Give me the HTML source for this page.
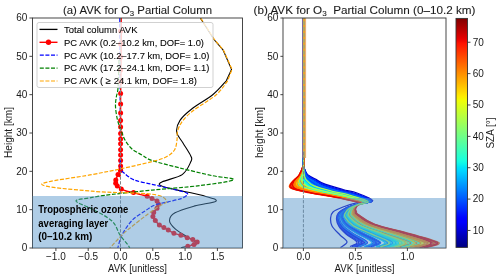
<!DOCTYPE html>
<html><head><meta charset="utf-8"><style>
html,body{margin:0;padding:0;width:500px;height:278px;overflow:hidden;background:#fff;}
body{position:relative;font-family:"Liberation Sans",sans-serif;}
</style></head><body>
<div style="position:absolute;left:0;top:0;width:500px;height:278px;will-change:transform">
<svg width="500" height="278" viewBox="0 0 500 278" style="position:absolute;left:0;top:0;font-family:'Liberation Sans', sans-serif">
<defs>
<clipPath id="cl"><rect x="32.5" y="18" width="210" height="230"/></clipPath>
<clipPath id="cr"><rect x="283" y="18" width="163" height="230"/></clipPath>
<linearGradient id="jet" x1="0" y1="0" x2="0" y2="1"><stop offset="0" stop-color="#800000"/><stop offset="0.01" stop-color="#8b0000"/><stop offset="0.02" stop-color="#970000"/><stop offset="0.03" stop-color="#a20000"/><stop offset="0.04" stop-color="#ae0000"/><stop offset="0.05" stop-color="#b90000"/><stop offset="0.06" stop-color="#c50000"/><stop offset="0.07" stop-color="#d10000"/><stop offset="0.08" stop-color="#dc0000"/><stop offset="0.09" stop-color="#e80000"/><stop offset="0.1" stop-color="#f30900"/><stop offset="0.11" stop-color="#ff1300"/><stop offset="0.12" stop-color="#ff1c00"/><stop offset="0.13" stop-color="#ff2600"/><stop offset="0.14" stop-color="#ff2f00"/><stop offset="0.15" stop-color="#ff3900"/><stop offset="0.16" stop-color="#ff4200"/><stop offset="0.17" stop-color="#ff4c00"/><stop offset="0.18" stop-color="#ff5500"/><stop offset="0.19" stop-color="#ff5e00"/><stop offset="0.2" stop-color="#ff6800"/><stop offset="0.21" stop-color="#ff7100"/><stop offset="0.22" stop-color="#ff7b00"/><stop offset="0.23" stop-color="#ff8400"/><stop offset="0.24" stop-color="#ff8e00"/><stop offset="0.25" stop-color="#ff9700"/><stop offset="0.26" stop-color="#ffa100"/><stop offset="0.27" stop-color="#ffaa00"/><stop offset="0.28" stop-color="#ffb300"/><stop offset="0.29" stop-color="#ffbd00"/><stop offset="0.3" stop-color="#ffc600"/><stop offset="0.31" stop-color="#ffd000"/><stop offset="0.32" stop-color="#ffd900"/><stop offset="0.33" stop-color="#ffe300"/><stop offset="0.34" stop-color="#ffec00"/><stop offset="0.35" stop-color="#f7f600"/><stop offset="0.36" stop-color="#efff08"/><stop offset="0.37" stop-color="#e6ff10"/><stop offset="0.38" stop-color="#deff19"/><stop offset="0.39" stop-color="#d6ff21"/><stop offset="0.4" stop-color="#ceff29"/><stop offset="0.41" stop-color="#c5ff31"/><stop offset="0.42" stop-color="#bdff3a"/><stop offset="0.43" stop-color="#b5ff42"/><stop offset="0.44" stop-color="#adff4a"/><stop offset="0.45" stop-color="#a5ff52"/><stop offset="0.46" stop-color="#9cff5a"/><stop offset="0.47" stop-color="#94ff63"/><stop offset="0.48" stop-color="#8cff6b"/><stop offset="0.49" stop-color="#84ff73"/><stop offset="0.5" stop-color="#7bff7b"/><stop offset="0.51" stop-color="#73ff84"/><stop offset="0.52" stop-color="#6bff8c"/><stop offset="0.53" stop-color="#63ff94"/><stop offset="0.54" stop-color="#5aff9c"/><stop offset="0.55" stop-color="#52ffa5"/><stop offset="0.56" stop-color="#4affad"/><stop offset="0.57" stop-color="#42ffb5"/><stop offset="0.58" stop-color="#3affbd"/><stop offset="0.59" stop-color="#31ffc5"/><stop offset="0.6" stop-color="#29ffce"/><stop offset="0.61" stop-color="#21ffd6"/><stop offset="0.62" stop-color="#19ffde"/><stop offset="0.63" stop-color="#10fae6"/><stop offset="0.64" stop-color="#08f0ef"/><stop offset="0.65" stop-color="#00e5f7"/><stop offset="0.66" stop-color="#00dbff"/><stop offset="0.67" stop-color="#00d1ff"/><stop offset="0.68" stop-color="#00c7ff"/><stop offset="0.69" stop-color="#00bdff"/><stop offset="0.7" stop-color="#00b3ff"/><stop offset="0.71" stop-color="#00a8ff"/><stop offset="0.72" stop-color="#009eff"/><stop offset="0.73" stop-color="#0094ff"/><stop offset="0.74" stop-color="#008aff"/><stop offset="0.75" stop-color="#0080ff"/><stop offset="0.76" stop-color="#0075ff"/><stop offset="0.77" stop-color="#006bff"/><stop offset="0.78" stop-color="#0061ff"/><stop offset="0.79" stop-color="#0057ff"/><stop offset="0.8" stop-color="#004dff"/><stop offset="0.81" stop-color="#0042ff"/><stop offset="0.82" stop-color="#0038ff"/><stop offset="0.83" stop-color="#002eff"/><stop offset="0.84" stop-color="#0024ff"/><stop offset="0.85" stop-color="#0019ff"/><stop offset="0.86" stop-color="#000fff"/><stop offset="0.87" stop-color="#0005ff"/><stop offset="0.88" stop-color="#0000ff"/><stop offset="0.89" stop-color="#0000ff"/><stop offset="0.9" stop-color="#0000f3"/><stop offset="0.91" stop-color="#0000e8"/><stop offset="0.92" stop-color="#0000dc"/><stop offset="0.93" stop-color="#0000d1"/><stop offset="0.94" stop-color="#0000c5"/><stop offset="0.95" stop-color="#0000b9"/><stop offset="0.96" stop-color="#0000ae"/><stop offset="0.97" stop-color="#0000a2"/><stop offset="0.98" stop-color="#000097"/><stop offset="0.99" stop-color="#00008b"/><stop offset="1" stop-color="#000080"/></linearGradient>
</defs>
<rect width="500" height="278" fill="#fff"/>
<g clip-path="url(#cl)" fill="none" stroke-linejoin="round">
<path d="M200.3,18 L214,39.5 L223.2,50.2 L231.5,69.4 L226.3,80.8 L226.3,80.8 C224.08,83.08 218.77,89.8 213,94.5 C207.23,99.2 197.2,104.68 191.7,109 C186.2,113.32 182.5,116.57 180,120.4 C177.5,124.23 176.2,128.23 176.7,132 C177.2,135.77 180.63,138.97 183,143 C185.37,147.03 189.58,153.1 190.9,156.2 C192.22,159.3 192.35,158.53 190.9,161.6 C189.45,164.67 187.42,170.72 182.2,174.6 C176.98,178.48 156.52,181.5 159.6,184.9 C162.68,188.3 191.27,192.33 200.7,195 C210.13,197.67 217.18,199.08 216.2,200.9 C215.22,202.72 201.67,203.92 194.8,205.9 C187.93,207.88 179.22,210.33 175,212.8 C170.78,215.27 169.47,218.02 169.5,220.7 C169.53,223.38 172.37,226.28 175.2,228.9 C178.03,231.52 182.87,234.05 186.5,236.4 C190.13,238.75 196.35,241.48 197,243 C197.65,244.52 193.07,244.7 190.4,245.5 C187.73,246.3 182.57,247.42 181,247.8" stroke="#000" stroke-width="1.1"/>
<line x1="119.8" y1="18" x2="120.5" y2="168" stroke="#00f" stroke-width="1.2" stroke-dasharray="4,1.6"/>
<path d="M121.2,18 C121.17,25 121.1,46.33 121,60 C120.9,73.67 120.68,81.63 120.6,100 C120.52,118.37 120.93,157.77 120.5,170.2 C120.07,182.63 118.78,172.97 118,174.6 C117.22,176.23 116.18,178.57 115.8,180 C115.42,181.43 115.45,182.18 115.7,183.2 C115.95,184.22 116.37,185.15 117.3,186.1 C118.23,187.05 119.82,188.08 121.3,188.9 C122.78,189.72 124.17,190.38 126.2,191 C128.23,191.62 131.08,192 133.5,192.6 C135.92,193.2 138.42,194 140.7,194.6 C142.98,195.2 145.32,195.53 147.2,196.2 C149.08,196.87 150.37,197.8 152,198.6 C153.63,199.4 155.92,200.05 157,201 C158.08,201.95 158.5,203.08 158.5,204.3 C158.5,205.52 157.8,206.95 157,208.3 C156.2,209.65 154.38,211.05 153.7,212.4 C153.02,213.75 152.63,215.05 152.9,216.4 C153.17,217.75 154.22,219.05 155.3,220.5 C156.38,221.95 157.97,223.92 159.4,225.1 C160.83,226.28 162.42,226.77 163.9,227.6 C165.38,228.43 166.63,229.15 168.3,230.1 C169.97,231.05 171.8,232.45 173.9,233.3 C176,234.15 178.68,234.47 180.9,235.2 C183.12,235.93 185.22,236.97 187.2,237.7 C189.18,238.43 191.13,238.87 192.8,239.6 C194.47,240.33 197,241.27 197.2,242.1 C197.4,242.93 195.57,243.92 194,244.6 C192.43,245.28 188.83,245.93 187.8,246.2" stroke="#f00" stroke-width="1.4"/>
<g fill="#f00" stroke="none"><circle cx="120.6" cy="31" r="2.5"/><circle cx="120.6" cy="44" r="2.5"/><circle cx="120.6" cy="57" r="2.5"/><circle cx="120.6" cy="70" r="2.5"/><circle cx="120.6" cy="82" r="2.5"/><circle cx="120.6" cy="93.6" r="2.5"/><circle cx="120.6" cy="104" r="2.5"/><circle cx="120.6" cy="113.1" r="2.5"/><circle cx="120.6" cy="120.6" r="2.5"/><circle cx="120.6" cy="127.1" r="2.5"/><circle cx="120.6" cy="133.6" r="2.5"/><circle cx="120.6" cy="139" r="2.5"/><circle cx="120.6" cy="143.7" r="2.5"/><circle cx="120.6" cy="149.7" r="2.5"/><circle cx="120.6" cy="155" r="2.5"/><circle cx="120.6" cy="160.5" r="2.5"/><circle cx="120.6" cy="166" r="2.5"/><circle cx="120.6" cy="170.2" r="2.5"/><circle cx="120.5" cy="170.2" r="2.5"/><circle cx="118" cy="174.6" r="2.5"/><circle cx="115.8" cy="180" r="2.5"/><circle cx="115.7" cy="183.2" r="2.5"/><circle cx="117.3" cy="186.1" r="2.5"/><circle cx="121.3" cy="188.9" r="2.5"/><circle cx="133.5" cy="192.6" r="2.5"/><circle cx="147.2" cy="196.2" r="2.5"/><circle cx="152" cy="198.6" r="2.5"/><circle cx="157" cy="201" r="2.5"/><circle cx="158.5" cy="204.3" r="2.5"/><circle cx="157" cy="208.3" r="2.5"/><circle cx="153.7" cy="212.4" r="2.5"/><circle cx="152.9" cy="216.4" r="2.5"/><circle cx="155.3" cy="220.5" r="2.5"/><circle cx="159.4" cy="225.1" r="2.5"/><circle cx="163.9" cy="227.6" r="2.5"/><circle cx="168.3" cy="230.1" r="2.5"/><circle cx="173.9" cy="233.3" r="2.5"/><circle cx="180.9" cy="235.2" r="2.5"/><circle cx="187.2" cy="237.7" r="2.5"/><circle cx="192.8" cy="239.6" r="2.5"/><circle cx="197.2" cy="242.1" r="2.5"/><circle cx="194" cy="244.6" r="2.5"/><circle cx="187.8" cy="246.2" r="2.5"/></g>
<path d="M120.5,160 C120.5,161.33 119.92,165.83 120.5,168 C121.08,170.17 121.7,171 124,173 C126.3,175 129.63,178.12 134.3,180 C138.97,181.88 146.05,182.88 152,184.3 C157.95,185.72 164.67,187.22 170,188.5 C175.33,189.78 181.08,191 184,192 C186.92,193 188,193.4 187.5,194.5 C187,195.6 184.2,197.38 181,198.6 C177.8,199.82 172.63,200.73 168.3,201.8 C163.97,202.87 158.72,203.58 155,205 C151.28,206.42 149.83,207.72 146,210.3 C142.17,212.88 136,216.38 132,220.5 C128,224.62 124.42,230.25 122,235 C119.58,239.75 118.25,246.67 117.5,249" stroke="#00f" stroke-width="1.2" stroke-dasharray="4,1.6"/>
<path d="M119,60 C118.83,64.67 118.45,81.83 118,88 C117.55,94.17 116.72,93.9 116.3,97 C115.88,100.1 115.3,102.77 115.5,106.6 C115.7,110.43 116.58,116.1 117.5,120 C118.42,123.9 119.75,126.67 121,130 C122.25,133.33 123.17,136.83 125,140 C126.83,143.17 129.17,146.5 132,149 C134.83,151.5 138.67,153.08 142,155 C145.33,156.92 145.67,158.33 152,160.5 C158.33,162.67 170,165.48 180,168 C190,170.52 203.08,173.63 212,175.6 C220.92,177.57 235.5,178.13 233.5,179.8 C231.5,181.47 213.58,183.88 200,185.6 C186.42,187.32 166.77,188.62 152,190.1 C137.23,191.58 121.73,193.22 111.4,194.5 C101.07,195.78 95.9,196.72 90,197.8 C84.1,198.88 75.67,199.13 76,201 C76.33,202.87 86,205.67 92,209 C98,212.33 107.33,216.67 112,221 C116.67,225.33 117.33,231 120,235 C122.67,239 126.33,242.67 128,245 C129.67,247.33 129.67,248.33 130,249" stroke="#008000" stroke-width="1.2" stroke-dasharray="4,1.6"/>
<path d="M200.6,18 L214.3,39.5 L223.5,50.2 L232,69.4 L227.5,81 L227.5,81 C225.58,83.33 221.58,90.17 216,95 C210.42,99.83 199.58,105.67 194,110 C188.42,114.33 185.25,117.42 182.5,121 C179.75,124.58 178.42,128.33 177.5,131.5 C176.58,134.67 177.5,136.92 177,140 C176.5,143.08 176.33,147.17 174.5,150 C172.67,152.83 169.75,155.07 166,157 C162.25,158.93 159.67,159.6 152,161.6 C144.33,163.6 130,166.83 120,169 C110,171.17 105.05,172.05 92,174.6 C78.95,177.15 41.7,181.53 41.7,184.3 C41.7,187.07 73.62,189.55 92,191.2 C110.38,192.85 139.57,192.57 152,194.2 C164.43,195.83 165.52,198.95 166.6,201 C167.68,203.05 161.6,204.33 158.5,206.5 C155.4,208.67 151.92,211.08 148,214 C144.08,216.92 139.25,220.58 135,224 C130.75,227.42 126.75,230.42 122.5,234.5 C118.25,238.58 111.67,246.17 109.5,248.5" stroke="#ffa500" stroke-width="1.2" stroke-dasharray="4,1.6"/>
<line x1="120.5" y1="18" x2="120.5" y2="248" stroke="#808080" stroke-width="1.0" stroke-dasharray="3.3,1.5"/>
</g>
<rect x="37" y="22.5" width="176" height="65" rx="2" ry="2" fill="#fff" fill-opacity="0.8" stroke="#cccccc" stroke-width="0.9"/>
<line x1="39.5" y1="29.4" x2="57.5" y2="29.4" stroke="#000" stroke-width="1.3"/>
<line x1="39.5" y1="42.3" x2="57.5" y2="42.3" stroke="#f00" stroke-width="1.4"/>
<circle cx="48.5" cy="42.3" r="2.7" fill="#f00"/>
<line x1="39.8" y1="55.2" x2="57.5" y2="55.2" stroke="#00f" stroke-width="1.2" stroke-dasharray="4,1.6"/>
<line x1="39.8" y1="68.1" x2="57.5" y2="68.1" stroke="#008000" stroke-width="1.2" stroke-dasharray="4,1.6"/>
<line x1="39.8" y1="81.0" x2="57.5" y2="81.0" stroke="#ffa500" stroke-width="1.2" stroke-dasharray="4,1.6"/>
<g font-size="9" fill="#000" stroke="#000" stroke-width="0.08">
<text x="64" y="32.7" textLength="73.5" lengthAdjust="spacingAndGlyphs">Total column AVK</text>
<text x="64" y="45.6" textLength="140" lengthAdjust="spacingAndGlyphs">PC AVK (0.2–10.2 km, DOF= 1.0)</text>
<text x="64" y="58.5" textLength="145.5" lengthAdjust="spacingAndGlyphs">PC AVK (10.2–17.7 km, DOF= 1.0)</text>
<text x="64" y="71.4" textLength="145.5" lengthAdjust="spacingAndGlyphs">PC AVK (17.2–24.1 km, DOF= 1.1)</text>
<text x="64" y="84.3" textLength="133" lengthAdjust="spacingAndGlyphs">PC AVK ( ≥ 24.1 km, DOF= 1.8)</text>
</g>
<g stroke="#333" stroke-width="0.9" fill="none">
<rect x="32.5" y="18" width="210" height="230"/>
<line x1="29.4" y1="248" x2="32.5" y2="248"/>
<line x1="29.4" y1="209.67" x2="32.5" y2="209.67"/>
<line x1="29.4" y1="171.33" x2="32.5" y2="171.33"/>
<line x1="29.4" y1="133" x2="32.5" y2="133"/>
<line x1="29.4" y1="94.67" x2="32.5" y2="94.67"/>
<line x1="29.4" y1="56.34" x2="32.5" y2="56.34"/>
<line x1="29.4" y1="18" x2="32.5" y2="18"/>
<line x1="55.9" y1="248" x2="55.9" y2="251"/>
<line x1="88.2" y1="248" x2="88.2" y2="251"/>
<line x1="120.5" y1="248" x2="120.5" y2="251"/>
<line x1="152.8" y1="248" x2="152.8" y2="251"/>
<line x1="185.1" y1="248" x2="185.1" y2="251"/>
<line x1="217.4" y1="248" x2="217.4" y2="251"/>
</g>
<rect x="32.5" y="196" width="210" height="52" fill="#5595ca" fill-opacity="0.47"/>
<g font-weight="bold" font-size="10.6" fill="#000">
<text x="38.3" y="213.4" textLength="90" lengthAdjust="spacingAndGlyphs">Tropospheric ozone</text>
<text x="38.3" y="226.6" textLength="70" lengthAdjust="spacingAndGlyphs">averaging layer</text>
<text x="38.3" y="240" textLength="54" lengthAdjust="spacingAndGlyphs">(0–10.2 km)</text>
</g>
<g font-size="10" fill="#1a1a1a">
<text x="27.3" y="251.3" text-anchor="end">0</text>
<text x="27.3" y="212.97" text-anchor="end">10</text>
<text x="27.3" y="174.63" text-anchor="end">20</text>
<text x="27.3" y="136.3" text-anchor="end">30</text>
<text x="27.3" y="97.97" text-anchor="end">40</text>
<text x="27.3" y="59.64" text-anchor="end">50</text>
<text x="27.3" y="21.3" text-anchor="end">60</text>
<text x="55.9" y="260.3" text-anchor="middle">−1.0</text>
<text x="88.2" y="260.3" text-anchor="middle">−0.5</text>
<text x="120.5" y="260.3" text-anchor="middle">0.0</text>
<text x="152.8" y="260.3" text-anchor="middle">0.5</text>
<text x="185.1" y="260.3" text-anchor="middle">1.0</text>
<text x="217.4" y="260.3" text-anchor="middle">1.5</text>
<text x="137.5" y="272" text-anchor="middle" textLength="59" lengthAdjust="spacingAndGlyphs">AVK [unitless]</text>
<text transform="translate(12,132.5) rotate(-90)" text-anchor="middle" textLength="51" lengthAdjust="spacingAndGlyphs">Height [km]</text>
</g>
<text x="63" y="14.2" font-size="10.9" fill="#1a1a1a" stroke="#1a1a1a" stroke-width="0.08" textLength="149" lengthAdjust="spacingAndGlyphs">(a) AVK for O<tspan font-size="7.5" dy="2">3</tspan><tspan dy="-2"> Partial Column</tspan></text>
<g clip-path="url(#cr)" fill="none" stroke-linejoin="round">
<path d="M302.91,18 C302.96,41.33 303.1,133.17 303.24,158 C303.38,182.83 303.28,164.31 303.76,166.95 C304.25,169.59 305.23,172.16 306.14,173.86 C307.05,175.56 308.03,176.17 309.23,177.14 C310.43,178.12 311.14,178.41 313.34,179.72 C315.54,181.02 318.06,183.21 322.42,184.98 C326.79,186.75 334.12,188.81 339.51,190.33 C344.9,191.86 349.44,192.34 354.75,194.11 C360.06,195.88 370.67,199.34 371.36,200.98 C372.05,202.61 362.98,202.72 358.87,203.91 C354.77,205.09 349.87,206.58 346.75,208.08 C343.63,209.57 341.54,211.13 340.17,212.88 C338.8,214.63 338.17,216.34 338.53,218.57 C338.89,220.81 340.11,223.73 342.35,226.3 C344.59,228.86 348.24,231.32 351.95,233.97 C355.66,236.63 363.74,240.12 364.61,242.23 C365.47,244.33 358.38,245.87 357.13,246.59" stroke="#0000d9" stroke-width="1.25"/>
<path d="M303.35,18 C303.36,41.33 303.36,133.21 303.4,158 C303.44,182.79 303.4,164.07 303.6,166.75 C303.8,169.43 304.22,172.27 304.62,174.1 C305.02,175.93 305.36,176.66 305.99,177.75 C306.63,178.84 306.81,179.3 308.44,180.63 C310.07,181.96 311.65,184.01 315.79,185.73 C319.92,187.44 327.62,189.43 333.24,190.9 C338.85,192.38 343.58,192.84 349.49,194.58 C355.39,196.31 367.18,199.68 368.67,201.3 C370.16,202.92 361.72,203.11 358.44,204.28 C355.16,205.44 351.28,206.93 348.97,208.31 C346.66,209.69 345.44,211.04 344.59,212.56 C343.74,214.08 342.78,215.24 343.88,217.44 C344.98,219.64 347.22,223.01 351.18,225.76 C355.15,228.5 362.07,231.14 367.66,233.9 C373.24,236.66 383.3,240.14 384.68,242.3 C386.06,244.46 377.41,246.08 375.95,246.84" stroke="#01e7f6" stroke-width="1.25"/>
<path d="M304.81,18 C304.66,41.33 304.22,133.32 303.93,158 C303.64,182.68 303.78,163.27 303.07,166.09 C302.36,168.9 300.93,172.62 299.65,174.9 C298.37,177.17 296.59,178.29 295.38,179.74 C294.18,181.19 292.62,182.2 292.39,183.61 C292.17,185.02 290.66,186.66 294.04,188.18 C297.42,189.7 306.31,191.44 312.68,192.76 C319.05,194.08 324.39,194.5 332.25,196.1 C340.11,197.7 355.7,200.82 359.85,202.36 C364,203.91 357.99,204.27 357.16,205.36 C356.33,206.46 355.2,207.85 354.89,208.93 C354.57,210 354.95,210.82 355.27,211.79 C355.59,212.75 353.93,212.6 356.81,214.71 C359.69,216.82 364.4,221.28 372.54,224.45 C380.67,227.62 395.51,230.72 405.62,233.72 C415.74,236.73 430.57,240.19 433.21,242.48 C435.85,244.76 423.41,246.61 421.46,247.43" stroke="#ff4300" stroke-width="1.25"/>
<path d="M303.43,18 C303.43,41.33 303.41,133.21 303.43,158 C303.45,182.79 303.42,164.02 303.57,166.71 C303.72,169.4 304.04,172.29 304.35,174.14 C304.65,176 304.87,176.75 305.41,177.86 C305.94,178.97 306.02,179.46 307.55,180.79 C309.08,182.13 310.49,184.16 314.58,185.86 C318.67,187.56 326.44,189.54 332.1,191 C337.76,192.47 342.52,192.93 348.54,194.66 C354.55,196.39 366.54,199.75 368.18,201.36 C369.82,202.97 361.51,203.17 358.37,204.34 C355.22,205.5 351.51,206.98 349.33,208.35 C347.15,209.71 346.05,211.02 345.28,212.51 C344.51,214 343.5,215.07 344.71,217.27 C345.92,219.46 348.32,222.9 352.56,225.67 C356.79,228.44 364.23,231.11 370.1,233.89 C375.97,236.66 386.34,240.15 387.8,242.31 C389.27,244.48 380.37,246.12 378.88,246.88" stroke="#0092ff" stroke-width="1.25"/>
<path d="M304.25,18 C304.17,41.33 303.89,133.28 303.73,158 C303.56,182.72 303.64,163.57 303.27,166.34 C302.91,169.1 302.19,172.49 301.55,174.59 C300.91,176.7 299.94,177.67 299.43,178.98 C298.93,180.3 298.03,181.1 298.51,182.47 C299,183.85 298.66,185.65 302.33,187.24 C306,188.84 314.44,190.67 320.52,192.05 C326.6,193.43 331.71,193.87 338.82,195.52 C345.94,197.17 360.08,200.38 363.21,201.96 C366.35,203.53 359.38,203.83 357.64,204.96 C355.89,206.08 353.76,207.52 352.74,208.7 C351.72,209.89 351.59,210.9 351.51,212.06 C351.43,213.22 350.01,213.53 352.26,215.67 C354.51,217.82 358.36,221.89 365.02,224.91 C371.69,227.93 383.75,230.87 392.27,233.78 C400.78,236.7 413.94,240.18 416.13,242.42 C418.33,244.66 407.23,246.42 405.45,247.22" stroke="#ff3600" stroke-width="1.25"/>
<path d="M303.98,18 C303.93,41.33 303.73,133.26 303.63,158 C303.53,182.74 303.56,163.72 303.37,166.46 C303.17,169.2 302.79,172.42 302.46,174.45 C302.13,176.47 301.55,177.37 301.38,178.62 C301.22,179.86 300.64,180.56 301.47,181.92 C302.29,183.29 302.53,185.16 306.34,186.79 C310.14,188.42 318.36,190.3 324.31,191.71 C330.25,193.12 335.24,193.56 342,195.24 C348.75,196.91 362.19,200.17 364.84,201.76 C367.48,203.35 360.07,203.62 357.87,204.76 C355.68,205.9 353.05,207.35 351.67,208.59 C350.29,209.83 349.88,210.94 349.59,212.2 C349.3,213.46 348,214.01 349.93,216.17 C351.86,218.32 355.26,222.2 361.18,225.14 C367.09,228.09 377.73,230.94 385.43,233.82 C393.13,236.69 405.42,240.17 407.39,242.38 C409.36,244.6 398.94,246.33 397.25,247.12" stroke="#77ff80" stroke-width="1.25"/>
<path d="M304.03,18 C303.97,41.33 303.76,133.26 303.65,158 C303.53,182.74 303.58,163.7 303.35,166.44 C303.13,169.19 302.69,172.43 302.31,174.47 C301.93,176.51 301.28,177.42 301.06,178.68 C300.84,179.93 300.21,180.65 300.98,182.01 C301.75,183.38 301.89,185.24 305.68,186.87 C309.46,188.49 317.72,190.36 323.68,191.76 C329.65,193.17 334.66,193.61 341.48,195.28 C348.29,196.96 361.84,200.21 364.57,201.79 C367.3,203.38 359.95,203.66 357.83,204.79 C355.71,205.93 353.17,207.38 351.85,208.61 C350.53,209.84 350.17,210.93 349.91,212.18 C349.66,213.42 348.34,213.93 350.32,216.08 C352.31,218.24 355.78,222.15 361.82,225.11 C367.87,228.06 378.74,230.93 386.58,233.81 C394.42,236.69 406.85,240.17 408.86,242.39 C410.87,244.61 400.33,246.34 398.63,247.13" stroke="#63ff93" stroke-width="1.25"/>
<path d="M302.86,18 C302.92,41.33 303.07,133.17 303.22,158 C303.37,182.83 303.27,164.33 303.78,166.97 C304.29,169.61 305.33,172.15 306.3,173.83 C307.27,175.52 308.31,176.12 309.57,177.08 C310.83,178.04 311.59,178.32 313.85,179.62 C316.11,180.92 318.74,183.12 323.12,184.9 C327.51,186.67 334.81,188.75 340.17,190.27 C345.54,191.8 350.06,192.28 355.31,194.06 C360.55,195.84 371.04,199.31 371.64,200.94 C372.25,202.58 363.12,202.68 358.93,203.86 C354.73,205.05 349.69,206.54 346.46,208.05 C343.23,209.56 341,211.14 339.56,212.92 C338.11,214.7 337.52,216.49 337.78,218.73 C338.04,220.97 339.12,223.83 341.11,226.37 C343.11,228.91 346.31,231.34 349.76,233.98 C353.21,236.62 361.01,240.12 361.8,242.22 C362.59,244.31 355.72,245.84 354.5,246.56" stroke="#0000d9" stroke-width="1.25"/>
<path d="M303.08,18 C303.11,41.33 303.2,133.19 303.3,158 C303.4,182.81 303.32,164.22 303.7,166.87 C304.08,169.53 304.84,172.2 305.56,173.95 C306.28,175.7 307.01,176.36 308,177.38 C308.98,178.39 309.49,178.75 311.47,180.06 C313.45,181.38 315.62,183.52 319.89,185.26 C324.16,187.01 331.64,189.05 337.12,190.55 C342.59,192.05 347.21,192.53 352.74,194.29 C358.28,196.05 369.34,199.47 370.33,201.1 C371.33,202.73 362.48,202.87 358.7,204.05 C354.92,205.23 350.44,206.72 347.66,208.17 C344.88,209.62 343.19,211.09 342.04,212.74 C340.9,214.4 340.12,215.87 340.79,218.09 C341.46,220.32 343.12,223.43 346.09,226.07 C349.05,228.71 354.09,231.24 358.6,233.94 C363.1,236.64 372.02,240.13 373.1,242.26 C374.18,244.39 366.43,245.96 365.1,246.7" stroke="#0004ff" stroke-width="1.25"/>
<path d="M303.94,18 C303.89,41.33 303.71,133.25 303.61,158 C303.52,182.75 303.55,163.74 303.39,166.48 C303.22,169.22 302.89,172.41 302.61,174.42 C302.33,176.43 301.81,177.32 301.7,178.56 C301.59,179.79 301.07,180.47 301.95,181.83 C302.83,183.19 303.16,185.08 306.99,186.72 C310.82,188.35 319.01,190.24 324.93,191.65 C330.85,193.06 335.82,193.51 342.52,195.19 C349.22,196.87 362.54,200.14 365.1,201.73 C367.67,203.32 360.18,203.59 357.91,204.73 C355.64,205.87 352.93,207.32 351.49,208.57 C350.05,209.82 349.59,210.94 349.27,212.22 C348.94,213.5 347.66,214.09 349.54,216.25 C351.42,218.41 354.74,222.26 360.53,225.18 C366.32,228.11 376.71,230.95 384.28,233.82 C391.84,236.69 403.99,240.17 405.92,242.38 C407.85,244.59 397.55,246.31 395.87,247.1" stroke="#ffc000" stroke-width="1.25"/>
<path d="M304.3,18 C304.21,41.33 303.92,133.28 303.74,158 C303.57,182.72 303.65,163.55 303.26,166.32 C302.86,169.09 302.08,172.5 301.39,174.62 C300.7,176.74 299.66,177.72 299.1,179.04 C298.54,180.37 297.59,181.19 298.01,182.57 C298.44,183.95 298.01,185.73 301.66,187.32 C305.3,188.91 313.78,190.73 319.88,192.11 C325.99,193.48 331.11,193.92 338.29,195.57 C345.46,197.21 359.72,200.42 362.94,201.99 C366.16,203.56 359.27,203.87 357.6,204.99 C355.93,206.11 353.88,207.55 352.92,208.72 C351.96,209.9 351.88,210.89 351.83,212.04 C351.78,213.18 350.34,213.45 352.64,215.59 C354.95,217.73 358.87,221.84 365.66,224.87 C372.45,227.9 384.74,230.85 393.39,233.78 C402.05,236.7 415.34,240.18 417.57,242.42 C419.81,244.67 408.59,246.44 406.8,247.24" stroke="#9dff5a" stroke-width="1.25"/>
<path d="M305,18 C304.83,41.33 304.33,133.33 304,158 C303.67,182.67 303.83,163.17 303,166 C302.17,168.83 300.5,172.67 299,175 C297.5,177.33 295.45,178.5 294,180 C292.55,181.5 290.77,182.58 290.3,184 C289.83,185.42 287.92,187 291.2,188.5 C294.48,190 303.53,191.7 310,193 C316.47,194.3 321.88,194.72 330,196.3 C338.12,197.88 354.2,200.97 358.7,202.5 C363.2,204.03 357.52,204.42 357,205.5 C356.48,206.58 355.68,207.97 355.6,209 C355.52,210.03 356.05,210.8 356.5,211.7 C356.95,212.6 355.22,212.3 358.3,214.4 C361.38,216.5 366.38,221.08 375,224.3 C383.62,227.52 399.37,230.67 410,233.7 C420.63,236.73 436.02,240.2 438.8,242.5 C441.58,244.8 428.72,246.67 426.7,247.5" stroke="#ff6500" stroke-width="1.25"/>
<path d="M304.34,18 C304.25,41.33 303.95,133.28 303.76,158 C303.58,182.72 303.66,163.52 303.24,166.3 C302.82,169.07 301.98,172.51 301.24,174.64 C300.49,176.78 299.39,177.77 298.77,179.11 C298.15,180.44 297.14,181.28 297.51,182.66 C297.88,184.04 297.35,185.81 300.98,187.4 C304.6,188.98 313.11,190.8 319.24,192.17 C325.37,193.54 330.51,193.97 337.75,195.61 C344.99,197.26 359.36,200.45 362.66,202.02 C365.97,203.59 359.15,203.91 357.56,205.03 C355.96,206.14 354,207.57 353.1,208.74 C352.2,209.9 352.16,210.89 352.15,212.01 C352.13,213.14 350.67,213.38 353.03,215.51 C355.38,217.65 359.38,221.79 366.29,224.83 C373.21,227.88 385.73,230.84 394.52,233.77 C403.31,236.71 416.74,240.18 419.01,242.43 C421.28,244.68 409.96,246.45 408.15,247.26" stroke="#30ffc7" stroke-width="1.25"/>
<path d="M302.88,18 C302.94,41.33 303.08,133.17 303.23,158 C303.38,182.83 303.27,164.32 303.77,166.96 C304.27,169.6 305.28,172.15 306.22,173.84 C307.16,175.54 308.18,176.14 309.4,177.11 C310.63,178.08 311.37,178.36 313.6,179.67 C315.83,180.97 318.41,183.16 322.78,184.94 C327.15,186.71 334.47,188.78 339.85,190.3 C345.22,191.83 349.76,192.31 355.03,194.09 C360.31,195.86 370.86,199.33 371.51,200.96 C372.15,202.59 363.05,202.7 358.9,203.89 C354.75,205.07 349.78,206.56 346.61,208.06 C343.43,209.57 341.28,211.14 339.87,212.9 C338.46,214.67 337.85,216.41 338.16,218.65 C338.47,220.89 339.62,223.78 341.74,226.33 C343.86,228.89 347.29,231.33 350.87,233.98 C354.45,236.63 362.4,240.12 363.22,242.22 C364.05,244.32 357.07,245.85 355.84,246.58" stroke="#0000f1" stroke-width="1.25"/>
<path d="M303.51,18 C303.5,41.33 303.46,133.22 303.46,158 C303.46,182.78 303.44,163.98 303.54,166.68 C303.64,169.37 303.86,172.31 304.07,174.19 C304.28,176.07 304.38,176.84 304.81,177.97 C305.24,179.1 305.23,179.62 306.65,180.96 C308.08,182.3 309.31,184.31 313.36,186 C317.41,187.69 325.24,189.65 330.94,191.11 C336.65,192.57 341.44,193.03 347.57,194.75 C353.69,196.46 365.9,199.81 367.69,201.42 C369.47,203.03 361.29,203.24 358.29,204.4 C355.29,205.56 351.75,207.04 349.69,208.38 C347.63,209.73 346.65,211.01 345.96,212.46 C345.26,213.91 344.21,214.91 345.53,217.09 C346.86,219.28 349.42,222.79 353.92,225.59 C358.41,228.39 366.35,231.09 372.52,233.88 C378.68,236.67 389.35,240.15 390.89,242.32 C392.43,244.5 383.3,246.15 381.78,246.91" stroke="#00e2fa" stroke-width="1.25"/>
<path d="M304.44,18 C304.33,41.33 304,133.29 303.79,158 C303.59,182.71 303.68,163.47 303.21,166.26 C302.73,169.04 301.77,172.53 300.92,174.69 C300.07,176.85 298.84,177.87 298.1,179.23 C297.36,180.59 296.25,181.46 296.5,182.85 C296.75,184.23 296.03,185.98 299.61,187.55 C303.18,189.12 311.77,190.92 317.95,192.28 C324.12,193.64 329.3,194.08 336.66,195.71 C344.02,197.35 358.64,200.53 362.11,202.09 C365.58,203.65 358.92,203.98 357.48,205.09 C356.04,206.21 354.24,207.63 353.46,208.78 C352.67,209.92 352.72,210.87 352.78,211.97 C352.83,213.06 351.33,213.22 353.79,215.35 C356.25,217.48 360.39,221.69 367.55,224.76 C374.71,227.82 387.71,230.81 396.76,233.76 C405.82,236.71 419.53,240.18 421.88,242.44 C424.22,244.69 412.67,246.48 410.83,247.29" stroke="#ecff0a" stroke-width="1.25"/>
<path d="M303.16,18 C303.19,41.33 303.25,133.19 303.33,158 C303.42,182.81 303.35,164.17 303.67,166.84 C303.99,169.5 304.65,172.22 305.27,174 C305.89,175.77 306.5,176.45 307.38,177.49 C308.26,178.53 308.67,178.92 310.54,180.24 C312.42,181.56 314.4,183.67 318.63,185.41 C322.87,187.14 330.41,189.16 335.93,190.66 C341.45,192.15 346.1,192.63 351.75,194.38 C357.4,196.13 368.68,199.54 369.82,201.16 C370.97,202.79 362.25,202.95 358.62,204.12 C355,205.3 350.7,206.79 348.08,208.22 C345.45,209.64 343.91,211.07 342.86,212.68 C341.82,214.3 340.97,215.67 341.79,217.88 C342.6,220.1 344.44,223.29 347.73,225.97 C351.02,228.64 356.67,231.21 361.52,233.93 C366.37,236.64 375.65,240.14 376.83,242.27 C378.01,244.41 369.97,246 368.6,246.74" stroke="#000aff" stroke-width="1.25"/>
<path d="M304.48,18 C304.37,41.33 304.03,133.29 303.81,158 C303.6,182.71 303.7,163.45 303.19,166.24 C302.68,169.02 301.67,172.54 300.77,174.72 C299.86,176.89 298.56,177.92 297.77,179.29 C296.97,180.66 295.8,181.55 296,182.94 C296.19,184.33 295.37,186.06 298.92,187.63 C302.47,189.2 311.1,190.99 317.3,192.34 C323.5,193.7 328.7,194.13 336.12,195.76 C343.54,197.39 358.28,200.56 361.83,202.12 C365.38,203.68 358.81,204.01 357.44,205.13 C356.07,206.24 354.36,207.66 353.63,208.8 C352.91,209.93 353,210.87 353.09,211.95 C353.18,213.03 351.66,213.14 354.17,215.27 C356.69,217.4 360.9,221.64 368.18,224.72 C375.47,227.8 388.69,230.8 397.88,233.76 C407.07,236.71 420.92,240.18 423.31,242.44 C425.69,244.7 414.03,246.5 412.17,247.31" stroke="#ffe400" stroke-width="1.25"/>
<path d="M303.05,18 C303.09,41.33 303.18,133.19 303.29,158 C303.4,182.81 303.32,164.23 303.71,166.89 C304.1,169.54 304.91,172.19 305.65,173.94 C306.4,175.68 307.18,176.33 308.19,177.34 C309.21,178.35 309.75,178.69 311.77,180.01 C313.79,181.32 316.01,183.47 320.3,185.22 C324.59,186.97 332.04,189.01 337.5,190.52 C342.96,192.02 347.57,192.5 353.07,194.26 C358.57,196.02 369.56,199.45 370.5,201.08 C371.44,202.71 362.56,202.85 358.73,204.03 C354.9,205.21 350.35,206.7 347.52,208.16 C344.69,209.61 342.94,211.1 341.76,212.76 C340.59,214.43 339.83,215.94 340.45,218.17 C341.08,220.39 342.67,223.47 345.53,226.1 C348.39,228.73 353.22,231.25 357.61,233.95 C361.99,236.64 370.78,240.13 371.83,242.25 C372.88,244.38 365.23,245.94 363.91,246.68" stroke="#00bbff" stroke-width="1.25"/>
<path d="M304.53,18 C304.41,41.33 304.05,133.3 303.83,158 C303.6,182.7 303.71,163.42 303.17,166.21 C302.63,169 301.56,172.55 300.61,174.74 C299.65,176.93 298.28,177.97 297.43,179.36 C296.58,180.74 295.35,181.64 295.49,183.04 C295.62,184.43 294.7,186.15 298.23,187.71 C301.76,189.27 310.42,191.05 316.64,192.4 C322.87,193.75 328.09,194.18 335.57,195.81 C343.06,197.43 357.91,200.6 361.55,202.16 C365.19,203.72 358.69,204.05 357.4,205.16 C356.11,206.27 354.48,207.69 353.81,208.81 C353.15,209.94 353.28,210.86 353.4,211.92 C353.53,212.99 351.98,213.07 354.55,215.19 C357.12,217.32 361.4,221.59 368.81,224.68 C376.21,227.77 389.67,230.79 398.99,233.75 C408.31,236.71 422.31,240.19 424.73,242.45 C427.15,244.71 415.38,246.51 413.51,247.33" stroke="#ff8100" stroke-width="1.25"/>
<path d="M303.39,18 C303.4,41.33 303.38,133.21 303.41,158 C303.45,182.79 303.41,164.04 303.59,166.73 C303.76,169.42 304.13,172.28 304.48,174.12 C304.84,175.97 305.12,176.71 305.7,177.81 C306.29,178.9 306.42,179.38 308,180.71 C309.58,182.04 311.08,184.09 315.19,185.79 C319.3,187.5 327.03,189.48 332.67,190.95 C338.31,192.42 343.06,192.89 349.01,194.62 C354.97,196.35 366.86,199.72 368.43,201.33 C369.99,202.94 361.62,203.14 358.4,204.31 C355.19,205.47 351.39,206.96 349.15,208.33 C346.9,209.7 345.74,211.03 344.94,212.54 C344.13,214.04 343.14,215.16 344.29,217.36 C345.45,219.55 347.77,222.96 351.87,225.71 C355.97,228.47 363.15,231.13 368.88,233.89 C374.61,236.66 384.82,240.15 386.25,242.31 C387.67,244.47 378.89,246.1 377.42,246.86" stroke="#00b3ff" stroke-width="1.25"/>
<path d="M304.72,18 C304.58,41.33 304.17,133.31 303.9,158 C303.63,182.69 303.76,163.32 303.1,166.13 C302.45,168.94 301.14,172.6 299.97,174.84 C298.8,177.09 297.16,178.18 296.07,179.61 C294.98,181.04 293.54,182.02 293.43,183.42 C293.33,184.82 292.01,186.48 295.44,188.02 C298.87,189.56 307.69,191.31 314.01,192.64 C320.33,193.97 325.63,194.39 333.36,196 C341.1,197.61 356.44,200.74 360.42,202.29 C364.4,203.84 358.22,204.2 357.24,205.3 C356.26,206.39 354.96,207.8 354.53,208.89 C354.1,209.98 354.39,210.84 354.65,211.83 C354.91,212.83 353.28,212.76 356.06,214.87 C358.83,216.99 363.41,221.38 371.3,224.53 C379.19,227.67 393.57,230.74 403.42,233.73 C413.27,236.72 427.83,240.19 430.39,242.47 C432.96,244.75 420.75,246.58 418.82,247.4" stroke="#e80000" stroke-width="1.25"/>
<path d="M304.16,18 C304.09,41.33 303.84,133.27 303.7,158 C303.55,182.73 303.61,163.62 303.3,166.38 C303,169.14 302.39,172.46 301.85,174.54 C301.32,176.62 300.48,177.57 300.09,178.86 C299.7,180.15 298.91,180.92 299.51,182.29 C300.11,183.66 299.96,185.48 303.68,187.09 C307.39,188.7 315.76,190.55 321.79,191.93 C327.83,193.32 332.9,193.77 339.89,195.42 C346.89,197.08 360.79,200.31 363.76,201.89 C366.73,203.47 359.61,203.76 357.72,204.89 C355.82,206.02 353.52,207.46 352.38,208.66 C351.24,209.87 351.02,210.91 350.87,212.11 C350.73,213.3 349.34,213.69 351.49,215.84 C353.63,217.98 357.33,221.99 363.75,224.99 C370.17,227.98 381.75,230.89 390,233.79 C398.25,236.7 411.12,240.17 413.24,242.41 C415.36,244.64 404.48,246.39 402.73,247.19" stroke="#a3ff54" stroke-width="1.25"/>
<path d="M302.96,18 C303.01,41.33 303.13,133.18 303.26,158 C303.39,182.82 303.29,164.28 303.74,166.93 C304.2,169.58 305.12,172.17 305.97,173.88 C306.82,175.6 307.73,176.22 308.87,177.21 C310,178.2 310.65,178.51 312.79,179.82 C314.92,181.13 317.34,183.3 321.68,185.06 C326.01,186.83 333.39,188.88 338.81,190.4 C344.22,191.92 348.78,192.39 354.16,194.16 C359.53,195.93 370.28,199.38 371.06,201.01 C371.84,202.64 362.83,202.77 358.82,203.95 C354.82,205.13 350.04,206.63 347.03,208.11 C344.02,209.59 342.06,211.12 340.77,212.84 C339.47,214.56 338.78,216.19 339.24,218.42 C339.71,220.65 341.06,223.63 343.53,226.22 C346,228.81 350.1,231.29 354.06,233.96 C358.02,236.63 366.36,240.13 367.3,242.24 C368.23,244.35 360.93,245.89 359.66,246.63" stroke="#0022ff" stroke-width="1.25"/>
<path d="M304.86,18 C304.71,41.33 304.25,133.32 303.95,158 C303.65,182.68 303.8,163.24 303.05,166.06 C302.31,168.89 300.82,172.63 299.49,174.92 C298.15,177.21 296.31,178.34 295.04,179.81 C293.77,181.27 292.16,182.3 291.87,183.71 C291.59,185.12 289.97,186.74 293.33,188.26 C296.69,189.78 305.62,191.5 312.01,192.82 C318.41,194.13 323.76,194.55 331.69,196.15 C339.61,197.75 355.33,200.85 359.56,202.4 C363.8,203.94 357.87,204.31 357.12,205.4 C356.37,206.49 355.32,207.88 355.06,208.94 C354.81,210.01 355.22,210.82 355.58,211.77 C355.93,212.72 354.25,212.53 357.18,214.64 C360.11,216.74 364.9,221.23 373.16,224.41 C381.41,227.59 396.48,230.7 406.72,233.72 C416.96,236.73 431.93,240.2 434.61,242.48 C437.28,244.77 424.74,246.62 422.77,247.45" stroke="#ff6100" stroke-width="1.25"/>
<path d="M303.77,18 C303.73,41.33 303.6,133.24 303.55,158 C303.5,182.76 303.51,163.84 303.45,166.56 C303.39,169.28 303.28,172.37 303.2,174.33 C303.12,176.29 302.86,177.13 302.97,178.32 C303.08,179.51 302.76,180.13 303.87,181.48 C304.97,182.83 305.67,184.77 309.59,186.43 C313.51,188.08 321.55,190 327.38,191.43 C333.21,192.86 338.11,193.32 344.57,195.01 C351.04,196.71 363.91,200.01 366.16,201.6 C368.4,203.2 360.63,203.45 358.06,204.6 C355.5,205.74 352.45,207.21 350.77,208.5 C349.08,209.78 348.43,210.97 347.96,212.32 C347.49,213.66 346.3,214.41 347.95,216.58 C349.61,218.75 352.64,222.47 357.92,225.34 C363.2,228.22 372.62,231.01 379.63,233.84 C386.64,236.68 398.2,240.16 399.98,242.36 C401.76,244.55 391.92,246.25 390.3,247.03" stroke="#f0fe07" stroke-width="1.25"/>
<path d="M304.67,18 C304.54,41.33 304.14,133.31 303.88,158 C303.62,182.69 303.75,163.35 303.12,166.15 C302.5,168.95 301.25,172.59 300.13,174.82 C299.01,177.05 297.44,178.13 296.41,179.55 C295.38,180.96 293.99,181.92 293.95,183.32 C293.9,184.72 292.69,186.4 296.14,187.94 C299.6,189.49 308.38,191.24 314.67,192.58 C320.97,193.91 326.25,194.34 333.92,195.95 C341.59,197.57 356.81,200.71 360.7,202.26 C364.6,203.81 358.34,204.16 357.28,205.26 C356.22,206.36 354.84,207.77 354.35,208.87 C353.86,209.97 354.12,210.84 354.34,211.86 C354.56,212.87 352.96,212.83 355.68,214.95 C358.41,217.07 362.91,221.43 370.68,224.56 C378.45,227.69 392.6,230.75 402.32,233.74 C412.04,236.72 426.45,240.19 428.98,242.46 C431.51,244.74 419.41,246.56 417.49,247.38" stroke="#ffa400" stroke-width="1.25"/>
<path d="M304.07,18 C304.01,41.33 303.79,133.26 303.66,158 C303.54,182.74 303.59,163.67 303.34,166.42 C303.09,169.17 302.59,172.44 302.16,174.49 C301.73,176.55 301.02,177.47 300.74,178.74 C300.46,180 299.78,180.74 300.49,182.1 C301.2,183.47 301.25,185.32 305.01,186.94 C308.77,188.56 317.07,190.42 323.06,191.82 C329.05,193.22 334.08,193.66 340.95,195.33 C347.82,197 361.49,200.24 364.3,201.83 C367.11,203.41 359.84,203.69 357.79,204.83 C355.75,205.96 353.28,207.41 352.02,208.63 C350.76,209.85 350.45,210.92 350.23,212.15 C350.02,213.38 348.67,213.85 350.71,216 C352.75,218.15 356.3,222.1 362.47,225.07 C368.64,228.03 379.74,230.92 387.72,233.8 C395.7,236.69 408.28,240.17 410.32,242.4 C412.37,244.62 401.72,246.36 400,247.15" stroke="#ff6400" stroke-width="1.25"/>
<path d="M303.19,18 C303.21,41.33 303.26,133.2 303.34,158 C303.42,182.8 303.35,164.15 303.66,166.82 C303.96,169.49 304.59,172.23 305.18,174.01 C305.76,175.8 306.33,176.48 307.17,177.53 C308.02,178.58 308.39,178.97 310.23,180.29 C312.06,181.62 313.99,183.72 318.21,185.45 C322.42,187.19 329.99,189.2 335.53,190.69 C341.06,192.19 345.72,192.66 351.41,194.41 C357.1,196.15 368.45,199.56 369.65,201.18 C370.85,202.81 362.17,202.97 358.59,204.15 C355.02,205.32 350.79,206.81 348.21,208.23 C345.64,209.65 344.15,211.07 343.13,212.67 C342.12,214.26 341.26,215.6 342.11,217.82 C342.97,220.03 344.87,223.25 348.27,225.93 C351.66,228.62 357.51,231.2 362.48,233.92 C367.44,236.65 376.85,240.14 378.06,242.28 C379.27,244.42 371.13,246.01 369.75,246.76" stroke="#0071ff" stroke-width="1.25"/>
<path d="M304.39,18 C304.29,41.33 303.97,133.29 303.78,158 C303.58,182.71 303.67,163.5 303.22,166.28 C302.77,169.06 301.88,172.52 301.08,174.67 C300.28,176.82 299.11,177.82 298.44,179.17 C297.76,180.52 296.7,181.37 297.01,182.75 C297.32,184.14 296.69,185.9 300.29,187.47 C303.89,189.05 312.44,190.86 318.59,192.22 C324.75,193.59 329.91,194.02 337.21,195.66 C344.51,197.3 359,200.49 362.39,202.06 C365.77,203.62 359.04,203.94 357.52,205.06 C356,206.18 354.12,207.6 353.28,208.76 C352.43,209.91 352.44,210.88 352.46,211.99 C352.48,213.1 351,213.3 353.41,215.43 C355.82,217.57 359.88,221.74 366.92,224.79 C373.96,227.85 386.72,230.83 395.64,233.77 C404.56,236.71 418.14,240.18 420.45,242.43 C422.76,244.68 411.32,246.47 409.49,247.28" stroke="#ffa000" stroke-width="1.25"/>
<path d="M303.85,18 C303.81,41.33 303.66,133.25 303.58,158 C303.51,182.75 303.53,163.79 303.42,166.52 C303.3,169.25 303.09,172.39 302.91,174.37 C302.73,176.36 302.34,177.22 302.34,178.44 C302.34,179.65 301.92,180.3 302.91,181.65 C303.91,183.01 304.42,184.92 308.3,186.57 C312.17,188.22 320.28,190.12 326.16,191.54 C332.03,192.96 336.97,193.41 343.55,195.1 C350.13,196.79 363.23,200.07 365.63,201.67 C368.04,203.26 360.4,203.52 357.99,204.66 C355.57,205.81 352.69,207.27 351.13,208.53 C349.57,209.8 349.01,210.96 348.61,212.27 C348.22,213.58 346.98,214.25 348.75,216.42 C350.52,218.58 353.69,222.36 359.23,225.26 C364.76,228.17 374.67,230.98 381.96,233.83 C389.25,236.68 401.11,240.16 402.96,242.37 C404.82,244.57 394.74,246.28 393.1,247.06" stroke="#70ff87" stroke-width="1.25"/>
<path d="M303.22,18 C303.24,41.33 303.28,133.2 303.35,158 C303.42,182.8 303.36,164.14 303.65,166.81 C303.94,169.48 304.52,172.23 305.08,174.03 C305.63,175.82 306.16,176.51 306.96,177.57 C307.77,178.62 308.11,179.03 309.91,180.35 C311.71,181.68 313.57,183.77 317.78,185.5 C321.98,187.23 329.57,189.24 335.12,190.73 C340.67,192.22 345.34,192.69 351.07,194.44 C356.79,196.18 368.23,199.58 369.48,201.2 C370.73,202.83 362.09,203 358.57,204.17 C355.04,205.34 350.88,206.83 348.35,208.24 C345.82,209.66 344.39,211.06 343.4,212.65 C342.42,214.23 341.54,215.54 342.44,217.75 C343.34,219.96 345.31,223.21 348.81,225.9 C352.3,228.6 358.35,231.19 363.43,233.92 C368.51,236.65 378.04,240.14 379.28,242.28 C380.52,244.42 372.29,246.02 370.89,246.77" stroke="#0000f7" stroke-width="1.25"/>
<path d="M302.93,18 C302.98,41.33 303.11,133.18 303.25,158 C303.38,182.82 303.28,164.3 303.75,166.94 C304.22,169.59 305.17,172.16 306.06,173.87 C306.94,175.58 307.88,176.2 309.05,177.18 C310.22,178.16 310.9,178.46 313.07,179.77 C315.23,181.07 317.71,183.25 322.06,185.02 C326.4,186.79 333.76,188.85 339.16,190.37 C344.56,191.89 349.12,192.36 354.46,194.14 C359.8,195.91 370.48,199.36 371.21,200.99 C371.94,202.63 362.9,202.75 358.85,203.93 C354.79,205.11 349.95,206.6 346.89,208.09 C343.83,209.58 341.81,211.12 340.47,212.86 C339.14,214.59 338.48,216.26 338.89,218.5 C339.3,220.73 340.59,223.68 342.95,226.26 C345.3,228.84 349.18,231.3 353.01,233.97 C356.85,236.63 365.07,240.13 365.96,242.23 C366.86,244.34 359.66,245.88 358.41,246.61" stroke="#0076ff" stroke-width="1.25"/>
<path d="M303.13,18 C303.16,41.33 303.23,133.19 303.32,158 C303.41,182.81 303.34,164.19 303.68,166.85 C304.02,169.51 304.72,172.21 305.37,173.98 C306.02,175.75 306.68,176.42 307.59,177.45 C308.5,178.48 308.94,178.86 310.85,180.18 C312.77,181.5 314.81,183.62 319.06,185.36 C323.3,187.1 330.83,189.12 336.33,190.62 C341.83,192.12 346.47,192.59 352.08,194.35 C357.69,196.1 368.9,199.52 370,201.14 C371.09,202.77 362.32,202.92 358.65,204.1 C354.97,205.28 350.61,206.77 347.94,208.2 C345.26,209.64 343.67,211.08 342.59,212.7 C341.51,214.33 340.69,215.74 341.46,217.95 C342.22,220.17 344,223.34 347.18,226 C350.37,228.66 355.82,231.22 360.55,233.93 C365.29,236.64 374.45,240.14 375.6,242.27 C376.75,244.4 368.8,245.98 367.44,246.73" stroke="#002fff" stroke-width="1.25"/>
<path d="M304.76,18 C304.62,41.33 304.19,133.32 303.91,158 C303.63,182.68 303.77,163.3 303.09,166.11 C302.4,168.92 301.04,172.61 299.81,174.87 C298.58,177.13 296.88,178.24 295.73,179.68 C294.58,181.12 293.08,182.11 292.91,183.51 C292.75,184.92 291.34,186.57 294.74,188.1 C298.15,189.63 307,191.37 313.35,192.7 C319.69,194.02 325.01,194.45 332.81,196.05 C340.61,197.66 356.07,200.78 360.14,202.33 C364.2,203.87 358.11,204.23 357.2,205.33 C356.3,206.43 355.08,207.83 354.71,208.91 C354.33,209.99 354.67,210.83 354.96,211.81 C355.25,212.79 353.61,212.68 356.43,214.79 C359.26,216.91 363.91,221.33 371.92,224.49 C379.94,227.64 394.54,230.73 404.52,233.73 C414.5,236.72 429.2,240.19 431.8,242.47 C434.4,244.76 422.08,246.59 420.14,247.41" stroke="#e80000" stroke-width="1.25"/>
<path d="M302.82,18 C302.88,41.33 303.04,133.17 303.21,158 C303.37,182.83 303.25,164.36 303.79,166.99 C304.33,169.63 305.43,172.14 306.44,173.81 C307.46,175.48 308.57,176.07 309.88,177.02 C311.19,177.98 312.01,178.23 314.32,179.53 C316.63,180.83 319.34,183.05 323.75,184.83 C328.16,186.61 335.42,188.69 340.77,190.22 C346.11,191.75 350.61,192.24 355.8,194.02 C360.99,195.8 371.37,199.28 371.9,200.91 C372.43,202.55 363.26,202.64 358.98,203.82 C354.69,205.01 349.51,206.49 346.16,208.02 C342.82,209.54 340.42,211.16 338.89,212.97 C337.36,214.79 336.83,216.65 336.98,218.9 C337.13,221.15 338.05,223.94 339.79,226.45 C341.52,228.97 344.23,231.37 347.4,233.99 C350.57,236.62 358.07,240.12 358.79,242.21 C359.5,244.29 352.86,245.8 351.68,246.52" stroke="#0000d9" stroke-width="1.25"/>
<path d="M303.81,18 C303.77,41.33 303.63,133.24 303.57,158 C303.5,182.76 303.52,163.82 303.43,166.54 C303.35,169.27 303.19,172.38 303.06,174.35 C302.93,176.32 302.6,177.17 302.66,178.38 C302.71,179.58 302.34,180.21 303.39,181.57 C304.44,182.92 305.05,184.85 308.94,186.5 C312.84,188.15 320.92,190.06 326.77,191.49 C332.62,192.91 337.54,193.36 344.06,195.06 C350.59,196.75 363.57,200.04 365.89,201.63 C368.22,203.23 360.52,203.48 358.03,204.63 C355.53,205.78 352.57,207.24 350.95,208.52 C349.33,209.79 348.72,210.96 348.29,212.29 C347.85,213.62 346.64,214.33 348.35,216.5 C350.07,218.67 353.17,222.41 358.57,225.3 C363.98,228.19 373.65,230.99 380.8,233.84 C387.95,236.68 399.66,240.16 401.47,242.36 C403.29,244.56 393.33,246.26 391.7,247.04" stroke="#55ffa2" stroke-width="1.25"/>
<path d="M302.6,18 C302.67,41.33 302.8,133.17 303,158 C303.2,182.83 303.18,164.42 303.8,167 C304.42,169.58 305.58,171.92 306.7,173.5 C307.82,175.08 309.05,175.58 310.5,176.5 C311.95,177.42 312.98,177.72 315.4,179 C317.82,180.28 320.4,182.45 325,184.2 C329.6,185.95 337.67,188.03 343,189.5 C348.33,190.97 352.03,191.13 357,193 C361.97,194.87 372.88,199.05 372.8,200.7 C372.72,202.35 361.47,201.85 356.5,202.9 C351.53,203.95 346.92,205.48 343,207 C339.08,208.52 335.07,210.17 333,212 C330.93,213.83 330.77,215.67 330.6,218 C330.43,220.33 330.43,223.17 332,226 C333.57,228.83 337.5,232.33 340,235 C342.5,237.67 346.92,239.92 347,242 C347.08,244.08 341.58,246.58 340.5,247.5" stroke="#0000c5" stroke-width="1.25"/>
<path d="M304.21,18 C304.13,41.33 303.87,133.27 303.71,158 C303.56,182.73 303.62,163.6 303.29,166.36 C302.95,169.12 302.29,172.47 301.7,174.57 C301.11,176.66 300.21,177.62 299.76,178.92 C299.31,180.22 298.47,181.01 299.01,182.38 C299.55,183.75 299.32,185.57 303.01,187.17 C306.7,188.77 315.1,190.61 321.16,191.99 C327.22,193.38 332.3,193.82 339.36,195.47 C346.41,197.13 360.43,200.35 363.49,201.92 C366.54,203.5 359.5,203.8 357.68,204.92 C355.86,206.05 353.64,207.49 352.56,208.68 C351.48,209.88 351.31,210.9 351.19,212.08 C351.08,213.26 349.67,213.61 351.87,215.76 C354.07,217.9 357.84,221.94 364.39,224.95 C370.93,227.95 382.75,230.88 391.13,233.79 C399.52,236.7 412.53,240.18 414.69,242.41 C416.85,244.65 405.86,246.41 404.09,247.21" stroke="#ffe200" stroke-width="1.25"/>
<path d="M303.64,18 C303.62,41.33 303.53,133.23 303.51,158 C303.48,182.77 303.47,163.91 303.49,166.62 C303.52,169.33 303.57,172.34 303.64,174.26 C303.71,176.18 303.63,176.98 303.9,178.14 C304.17,179.3 304.01,179.87 305.27,181.22 C306.54,182.56 307.51,184.54 311.49,186.21 C315.48,187.89 323.41,189.82 329.18,191.27 C334.94,192.71 339.79,193.17 346.09,194.88 C352.38,196.58 364.91,199.91 366.93,201.51 C368.94,203.11 360.96,203.34 358.18,204.5 C355.39,205.65 352.1,207.13 350.23,208.44 C348.36,209.76 347.54,210.99 346.96,212.39 C346.38,213.79 345.26,214.66 346.75,216.84 C348.25,219.02 351.04,222.63 355.93,225.47 C360.82,228.3 369.51,231.05 376.1,233.86 C382.69,236.67 393.8,240.16 395.47,242.34 C397.13,244.53 387.63,246.2 386.07,246.97" stroke="#00d5ff" stroke-width="1.25"/>
<path d="M303.6,18 C303.58,41.33 303.5,133.23 303.49,158 C303.48,182.77 303.46,163.93 303.51,166.64 C303.56,169.34 303.67,172.33 303.78,174.23 C303.9,176.14 303.88,176.94 304.2,178.09 C304.53,179.24 304.42,179.79 305.73,181.13 C307.05,182.47 308.11,184.46 312.12,186.14 C316.13,187.82 324.03,189.77 329.77,191.21 C335.52,192.66 340.35,193.12 346.58,194.83 C352.82,196.54 365.24,199.87 367.18,201.48 C369.12,203.09 361.07,203.31 358.22,204.47 C355.36,205.62 351.98,207.1 350.05,208.42 C348.12,209.75 347.25,211 346.63,212.41 C346.01,213.83 344.91,214.74 346.35,216.92 C347.79,219.1 350.5,222.68 355.26,225.51 C360.02,228.33 368.46,231.06 374.91,233.86 C381.36,236.67 392.33,240.15 393.95,242.34 C395.57,244.52 386.2,246.18 384.64,246.95" stroke="#1fffd8" stroke-width="1.25"/>
<path d="M303.72,18 C303.69,41.33 303.58,133.24 303.54,158 C303.49,182.76 303.49,163.86 303.46,166.58 C303.43,169.3 303.38,172.36 303.35,174.3 C303.32,176.25 303.12,177.08 303.28,178.26 C303.45,179.44 303.18,180.04 304.34,181.39 C305.49,182.74 306.28,184.69 310.23,186.35 C314.17,188.02 322.17,189.94 327.98,191.38 C333.79,192.81 338.68,193.27 345.08,194.97 C351.49,196.67 364.24,199.97 366.41,201.57 C368.58,203.17 360.74,203.41 358.1,204.56 C355.46,205.71 352.34,207.18 350.59,208.48 C348.84,209.77 348.13,210.98 347.63,212.34 C347.12,213.71 345.95,214.49 347.56,216.67 C349.16,218.84 352.11,222.52 357.26,225.38 C362.41,228.25 371.58,231.02 378.46,233.85 C385.33,236.68 396.74,240.16 398.48,242.35 C400.22,244.55 390.49,246.23 388.9,247.01" stroke="#1bffdb" stroke-width="1.25"/>
<path d="M304.12,18 C304.04,41.33 303.81,133.27 303.68,158 C303.55,182.73 303.6,163.65 303.32,166.4 C303.04,169.15 302.49,172.45 302.01,174.52 C301.52,176.59 300.75,177.52 300.41,178.8 C300.08,180.08 299.35,180.83 300,182.2 C300.66,183.57 300.61,185.4 304.35,187.02 C308.09,188.63 316.41,190.48 322.43,191.88 C328.44,193.27 333.49,193.71 340.42,195.38 C347.36,197.04 361.14,200.28 364.03,201.86 C366.92,203.44 359.73,203.73 357.75,204.86 C355.78,205.99 353.4,207.43 352.2,208.65 C351,209.86 350.74,210.92 350.55,212.13 C350.37,213.34 349.01,213.77 351.1,215.92 C353.19,218.07 356.82,222.05 363.11,225.03 C369.4,228.01 380.75,230.9 388.86,233.8 C396.97,236.69 409.7,240.17 411.78,242.4 C413.87,244.63 403.1,246.37 401.37,247.17" stroke="#39ffbd" stroke-width="1.25"/>
<path d="M304.62,18 C304.5,41.33 304.11,133.3 303.86,158 C303.62,182.7 303.73,163.37 303.14,166.17 C302.54,168.97 301.35,172.57 300.29,174.79 C299.23,177.01 297.72,178.08 296.75,179.48 C295.78,180.89 294.45,181.83 294.46,183.23 C294.48,184.62 293.36,186.31 296.84,187.86 C300.32,189.41 309.06,191.18 315.33,192.52 C321.6,193.86 326.86,194.29 334.47,195.9 C342.08,197.52 357.18,200.67 360.99,202.22 C364.8,203.78 358.46,204.12 357.32,205.23 C356.18,206.33 354.72,207.74 354.17,208.85 C353.62,209.96 353.84,210.85 354.03,211.88 C354.22,212.91 352.64,212.91 355.31,215.03 C357.98,217.15 362.41,221.48 370.06,224.6 C377.71,227.72 391.63,230.77 401.21,233.74 C410.8,236.72 425.08,240.19 427.57,242.46 C430.06,244.73 418.07,246.55 416.17,247.36" stroke="#ff6f00" stroke-width="1.25"/>
<path d="M303.68,18 C303.65,41.33 303.55,133.23 303.52,158 C303.49,182.77 303.48,163.89 303.48,166.6 C303.48,169.31 303.48,172.35 303.5,174.28 C303.51,176.21 303.37,177.03 303.59,178.2 C303.81,179.37 303.59,179.96 304.81,181.3 C306.02,182.65 306.9,184.61 310.86,186.28 C314.82,187.95 322.79,189.88 328.58,191.32 C334.37,192.76 339.24,193.22 345.58,194.92 C351.93,196.62 364.58,199.94 366.67,201.54 C368.76,203.14 360.85,203.38 358.14,204.53 C355.43,205.68 352.22,207.15 350.41,208.46 C348.6,209.76 347.84,210.98 347.3,212.36 C346.75,213.75 345.6,214.58 347.15,216.75 C348.7,218.93 351.57,222.57 356.59,225.42 C361.61,228.28 370.55,231.03 377.28,233.85 C384.01,236.67 395.28,240.16 396.98,242.35 C398.68,244.54 389.07,246.22 387.49,246.99" stroke="#0bf3ec" stroke-width="1.25"/>
<path d="M303.56,18 C303.54,41.33 303.48,133.22 303.47,158 C303.47,182.78 303.45,163.95 303.53,166.66 C303.6,169.36 303.76,172.32 303.93,174.21 C304.09,176.11 304.13,176.89 304.51,178.03 C304.89,179.17 304.82,179.7 306.19,181.04 C307.57,182.38 308.71,184.38 312.74,186.07 C316.77,187.76 324.64,189.71 330.36,191.16 C336.08,192.61 340.9,193.07 347.08,194.79 C353.26,196.5 365.57,199.84 367.44,201.45 C369.3,203.06 361.18,203.28 358.25,204.43 C355.33,205.59 351.86,207.07 349.87,208.4 C347.88,209.74 346.95,211 346.29,212.44 C345.64,213.87 344.56,214.82 345.94,217.01 C347.32,219.19 349.96,222.74 354.59,225.55 C359.22,228.36 367.41,231.07 373.72,233.87 C380.02,236.67 390.84,240.15 392.42,242.33 C394.01,244.51 384.75,246.17 383.21,246.93" stroke="#00aeff" stroke-width="1.25"/>
<path d="M302.8,18 C302.87,41.33 303.03,133.17 303.2,158 C303.37,182.83 303.25,164.37 303.8,167 C304.35,169.63 305.47,172.13 306.5,173.8 C307.53,175.47 308.67,176.05 310,177 C311.33,177.95 312.17,178.2 314.5,179.5 C316.83,180.8 319.58,183.02 324,184.8 C328.42,186.58 335.67,188.67 341,190.2 C346.33,191.73 350.83,192.22 356,194 C361.17,195.78 371.5,199.27 372,200.9 C372.5,202.53 363.33,202.62 359,203.8 C354.67,204.98 349.42,206.47 346,208 C342.58,209.53 340.08,211.17 338.5,213 C336.92,214.83 336.42,216.75 336.5,219 C336.58,221.25 337.42,224 339,226.5 C340.58,229 343,231.38 346,234 C349,236.62 356.33,240.12 357,242.2 C357.67,244.28 351.17,245.78 350,246.5" stroke="#0000d9" stroke-width="1.25"/>
<path d="M303.25,18 C303.27,41.33 303.3,133.2 303.36,158 C303.43,182.8 303.37,164.12 303.64,166.8 C303.91,169.47 304.46,172.24 304.98,174.04 C305.5,175.85 305.98,176.55 306.75,177.61 C307.52,178.67 307.82,179.09 309.59,180.41 C311.35,181.74 313.15,183.83 317.34,185.55 C321.53,187.28 329.14,189.28 334.71,190.77 C340.27,192.25 344.95,192.72 350.72,194.47 C356.49,196.21 368,199.6 369.3,201.22 C370.6,202.85 362.01,203.02 358.54,204.19 C355.07,205.37 350.97,206.85 348.49,208.26 C346.01,209.66 344.62,211.06 343.67,212.63 C342.71,214.2 341.82,215.47 342.76,217.68 C343.71,219.89 345.74,223.16 349.34,225.87 C352.94,228.57 359.19,231.18 364.38,233.91 C369.57,236.65 379.22,240.14 380.49,242.29 C381.77,244.43 373.44,246.04 372.03,246.79" stroke="#0052ff" stroke-width="1.25"/>
<path d="M302.84,18 C302.9,41.33 303.06,133.17 303.21,158 C303.37,182.83 303.26,164.35 303.79,166.98 C304.31,169.62 305.38,172.14 306.37,173.82 C307.37,175.5 308.45,176.09 309.73,177.05 C311.02,178.01 311.81,178.27 314.09,179.58 C316.38,180.88 319.05,183.08 323.45,184.86 C327.85,186.64 335.13,188.72 340.48,190.25 C345.83,191.78 350.35,192.26 355.56,194.04 C360.78,195.82 371.21,199.29 371.78,200.93 C372.34,202.56 363.19,202.66 358.95,203.84 C354.71,205.03 349.6,206.52 346.31,208.03 C343.03,209.55 340.72,211.15 339.23,212.95 C337.75,214.74 337.18,216.57 337.39,218.81 C337.59,221.06 338.6,223.88 340.47,226.41 C342.34,228.94 345.3,231.35 348.61,233.99 C351.92,236.62 359.58,240.12 360.33,242.21 C361.09,244.3 354.33,245.82 353.13,246.54" stroke="#0029ff" stroke-width="1.25"/>
<path d="M304.95,18 C304.79,41.33 304.31,133.33 303.98,158 C303.66,182.67 303.82,163.19 303.02,166.02 C302.21,168.85 300.61,172.66 299.16,174.97 C297.72,177.29 295.74,178.45 294.35,179.93 C292.96,181.42 291.23,182.49 290.83,183.9 C290.42,185.32 288.6,186.91 291.91,188.42 C295.22,189.93 304.23,191.63 310.67,192.94 C317.12,194.24 322.51,194.66 330.56,196.25 C338.62,197.84 354.58,200.93 358.99,202.47 C363.4,204 357.63,204.38 357.04,205.47 C356.45,206.55 355.56,207.94 355.42,208.98 C355.28,210.02 355.78,210.81 356.19,211.72 C356.61,212.64 354.9,212.38 357.93,214.48 C360.96,216.58 365.89,221.13 374.39,224.34 C382.88,227.54 398.41,230.68 408.91,233.71 C419.41,236.73 434.66,240.2 437.41,242.49 C440.15,244.79 427.39,246.65 425.39,247.48" stroke="#e80000" stroke-width="1.25"/>
<path d="M304.58,18 C304.45,41.33 304.08,133.3 303.85,158 C303.61,182.7 303.72,163.4 303.15,166.19 C302.59,168.99 301.46,172.56 300.45,174.77 C299.44,176.97 298,178.03 297.09,179.42 C296.18,180.81 294.9,181.74 294.97,183.13 C295.05,184.52 294.03,186.23 297.54,187.79 C301.04,189.34 309.74,191.11 315.99,192.46 C322.24,193.8 327.48,194.23 335.02,195.86 C342.57,197.48 357.55,200.63 361.27,202.19 C364.99,203.75 358.57,204.09 357.36,205.19 C356.15,206.3 354.6,207.71 353.99,208.83 C353.38,209.95 353.56,210.85 353.72,211.9 C353.87,212.95 352.31,212.99 354.93,215.11 C357.55,217.23 361.9,221.53 369.43,224.64 C376.96,227.75 390.65,230.78 400.1,233.75 C409.56,236.72 423.69,240.19 426.15,242.45 C428.61,244.72 416.72,246.53 414.84,247.35" stroke="#ff8700" stroke-width="1.25"/>
<path d="M304.9,18 C304.75,41.33 304.28,133.33 303.97,158 C303.65,182.67 303.81,163.22 303.03,166.04 C302.26,168.87 300.72,172.64 299.33,174.95 C297.94,177.25 296.02,178.39 294.69,179.87 C293.36,181.35 291.7,182.39 291.35,183.8 C291,185.22 289.29,186.83 292.62,188.34 C295.96,189.85 304.93,191.57 311.35,192.88 C317.76,194.19 323.14,194.61 331.13,196.2 C339.12,197.79 354.95,200.89 359.28,202.43 C363.6,203.97 357.75,204.34 357.08,205.43 C356.41,206.52 355.44,207.91 355.24,208.96 C355.04,210.01 355.5,210.81 355.89,211.74 C356.27,212.68 354.58,212.45 357.56,214.56 C360.54,216.66 365.4,221.18 373.77,224.38 C382.15,227.57 397.44,230.69 407.82,233.71 C418.19,236.73 433.3,240.2 436.01,242.49 C438.72,244.78 426.07,246.64 424.08,247.47" stroke="#e80000" stroke-width="1.25"/>
<path d="M303.9,18 C303.85,41.33 303.68,133.25 303.6,158 C303.52,182.75 303.54,163.77 303.4,166.5 C303.26,169.23 302.99,172.4 302.76,174.4 C302.53,176.4 302.08,177.27 302.02,178.5 C301.97,179.72 301.5,180.39 302.43,181.74 C303.37,183.1 303.8,185 307.65,186.64 C311.5,188.29 319.65,190.18 325.54,191.6 C331.44,193.01 336.4,193.46 343.04,195.15 C349.67,196.83 362.88,200.11 365.37,201.7 C367.85,203.29 360.29,203.55 357.95,204.69 C355.6,205.84 352.81,207.29 351.31,208.55 C349.81,209.81 349.3,210.95 348.94,212.25 C348.58,213.54 347.32,214.17 349.14,216.33 C350.97,218.49 354.22,222.31 359.88,225.22 C365.54,228.14 375.69,230.97 383.12,233.83 C390.55,236.68 402.55,240.17 404.44,242.37 C406.34,244.58 396.15,246.3 394.49,247.08" stroke="#a7ff50" stroke-width="1.25"/>
<path d="M303.1,18 C303.14,41.33 303.21,133.19 303.31,158 C303.41,182.81 303.33,164.2 303.69,166.86 C304.05,169.52 304.78,172.21 305.47,173.97 C306.15,175.72 306.84,176.39 307.79,177.41 C308.74,178.44 309.22,178.8 311.16,180.12 C313.11,181.44 315.22,183.57 319.48,185.31 C323.74,187.05 331.24,189.08 336.72,190.59 C342.21,192.09 346.84,192.56 352.41,194.32 C357.99,196.07 369.12,199.49 370.17,201.12 C371.21,202.75 362.4,202.9 358.67,204.08 C354.95,205.25 350.53,206.75 347.8,208.19 C345.07,209.63 343.43,211.08 342.32,212.72 C341.21,214.36 340.4,215.81 341.12,218.02 C341.84,220.24 343.56,223.38 346.64,226.03 C349.71,228.69 354.96,231.23 359.58,233.94 C364.2,236.64 373.24,240.13 374.35,242.26 C375.47,244.39 367.62,245.97 366.27,246.71" stroke="#006cff" stroke-width="1.25"/>
<path d="M303.47,18 C303.47,41.33 303.43,133.22 303.44,158 C303.46,182.78 303.43,164 303.56,166.69 C303.68,169.39 303.95,172.3 304.21,174.17 C304.47,176.04 304.63,176.8 305.11,177.92 C305.59,179.04 305.63,179.54 307.1,180.88 C308.58,182.21 309.9,184.23 313.97,185.93 C318.04,187.63 325.85,189.59 331.52,191.06 C337.2,192.52 341.98,192.98 348.05,194.7 C354.12,196.43 366.22,199.78 367.93,201.39 C369.65,203 361.4,203.21 358.33,204.37 C355.26,205.53 351.63,207.01 349.51,208.37 C347.39,209.72 346.35,211.02 345.62,212.49 C344.89,213.96 343.85,214.99 345.12,217.18 C346.39,219.37 348.87,222.85 353.24,225.63 C357.6,228.41 365.29,231.1 371.31,233.88 C377.33,236.66 387.85,240.15 389.35,242.32 C390.85,244.49 381.84,246.13 380.33,246.9" stroke="#a3ff54" stroke-width="1.25"/>
<rect x="302" y="18" width="1.4" height="140" fill="#7d6aa0"/><rect x="303.4" y="18" width="1.6" height="140" fill="#b9a05a"/><rect x="305" y="18" width="1.1" height="140" fill="#eab070"/>
<line x1="304.1" y1="18" x2="304.1" y2="152" stroke="#f5a020" stroke-width="1.5" stroke-dasharray="2.2,3.7" stroke-dashoffset="-1"/>
<line x1="303.4" y1="152" x2="303.4" y2="248" stroke="#808080" stroke-width="1.0" stroke-dasharray="3.3,1.5"/>
</g>
<g stroke="#333" stroke-width="0.9" fill="none">
<rect x="283" y="18" width="163" height="230"/>
<line x1="280.4" y1="248" x2="283" y2="248"/>
<line x1="280.4" y1="209.67" x2="283" y2="209.67"/>
<line x1="280.4" y1="171.33" x2="283" y2="171.33"/>
<line x1="280.4" y1="133" x2="283" y2="133"/>
<line x1="280.4" y1="94.67" x2="283" y2="94.67"/>
<line x1="280.4" y1="56.34" x2="283" y2="56.34"/>
<line x1="280.4" y1="18" x2="283" y2="18"/>
<line x1="303.4" y1="248" x2="303.4" y2="251"/>
<line x1="355.4" y1="248" x2="355.4" y2="251"/>
<line x1="407.4" y1="248" x2="407.4" y2="251"/>
</g>
<rect x="283" y="198" width="163" height="50" fill="#5595ca" fill-opacity="0.47"/>
<g font-size="10" fill="#1a1a1a">
<text x="278.3" y="251.3" text-anchor="end">0</text>
<text x="278.3" y="212.97" text-anchor="end">10</text>
<text x="278.3" y="174.63" text-anchor="end">20</text>
<text x="278.3" y="136.3" text-anchor="end">30</text>
<text x="278.3" y="97.97" text-anchor="end">40</text>
<text x="278.3" y="59.64" text-anchor="end">50</text>
<text x="278.3" y="21.3" text-anchor="end">60</text>
<text x="303.4" y="260.3" text-anchor="middle">0.0</text>
<text x="355.4" y="260.3" text-anchor="middle">0.5</text>
<text x="407.4" y="260.3" text-anchor="middle">1.0</text>
<text x="364.5" y="272" text-anchor="middle" textLength="60" lengthAdjust="spacingAndGlyphs">AVK [unitless]</text>
<text transform="translate(262.6,132.5) rotate(-90)" text-anchor="middle" textLength="51" lengthAdjust="spacingAndGlyphs">height [km]</text>
</g>
<text x="253.5" y="14.2" font-size="10.9" fill="#1a1a1a" stroke="#1a1a1a" stroke-width="0.08" textLength="222" lengthAdjust="spacingAndGlyphs">(b) AVK for O<tspan font-size="7.5" dy="2">3</tspan><tspan dy="-2">&#160; Partial Column (0–10.2 km)</tspan></text>
<rect x="456" y="18.4" width="11.5" height="229" fill="url(#jet)"/>
<rect x="456" y="18.4" width="11.5" height="229" fill="none" stroke="#333" stroke-width="0.9"/>
<g stroke="#333" stroke-width="0.9">
<line x1="467.5" y1="230.46" x2="470.5" y2="230.46"/>
<line x1="467.5" y1="199.09" x2="470.5" y2="199.09"/>
<line x1="467.5" y1="167.72" x2="470.5" y2="167.72"/>
<line x1="467.5" y1="136.35" x2="470.5" y2="136.35"/>
<line x1="467.5" y1="104.98" x2="470.5" y2="104.98"/>
<line x1="467.5" y1="73.61" x2="470.5" y2="73.61"/>
<line x1="467.5" y1="42.24" x2="470.5" y2="42.24"/>
</g>
<g font-size="10" fill="#1a1a1a">
<text x="472.8" y="233.76">10</text>
<text x="472.8" y="202.39">20</text>
<text x="472.8" y="171.02">30</text>
<text x="472.8" y="139.65">40</text>
<text x="472.8" y="108.28">50</text>
<text x="472.8" y="76.91">60</text>
<text x="472.8" y="45.54">70</text>
<text transform="translate(493.5,133) rotate(-90)" text-anchor="middle" textLength="31" lengthAdjust="spacingAndGlyphs">SZA [°]</text>
</g>
</svg>
</div>
</body></html>
